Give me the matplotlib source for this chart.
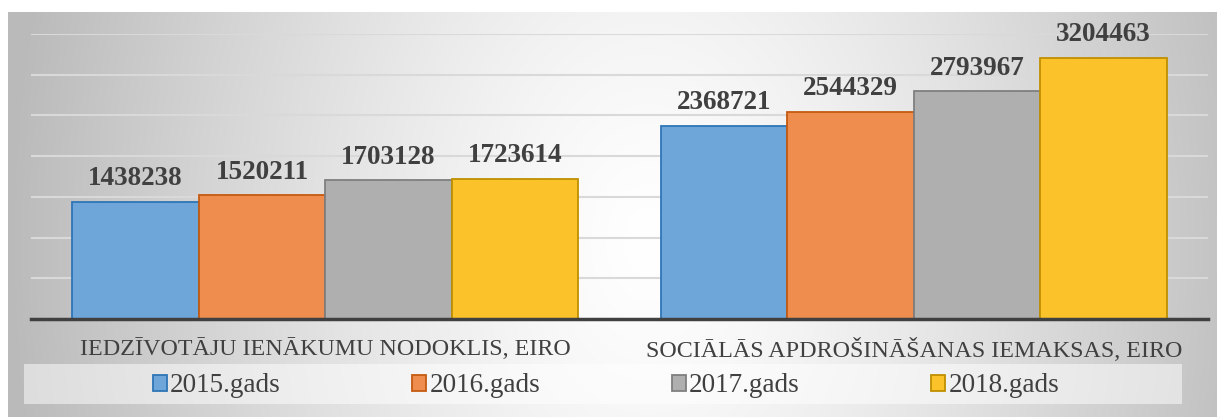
import numpy as np
import matplotlib.pyplot as plt
from matplotlib.patches import Rectangle

categories = ['IEDZĪVOTĀJU IENĀKUMU NODOKLIS, EIRO', 'SOCIĀLĀS APDROŠINĀŠANAS IEMAKSAS, EIRO']
years = ['2015.gads', '2016.gads', '2017.gads', '2018.gads']
values = {
    '2015.gads': [1438238, 2368721],
    '2016.gads': [1520211, 2544329],
    '2017.gads': [1703128, 2793967],
    '2018.gads': [1723614, 3204463],
}
face_colors = ['#6FA6D9', '#EF8D4F', '#AFAFAF', '#FCC22A']
edge_colors = ['#2E75B6', '#C55A11', '#7F7F7F', '#BF9000']

W, H = 1217, 417
fig = plt.figure(figsize=(W / 100, H / 100), dpi=100)
fig.patch.set_facecolor('white')

# gradient background of the chart area
bg = fig.add_axes([8 / W, 0, 1 - 8 / W, (H - 12) / H])
bg.set_axis_off()
yy, xx = np.mgrid[0:405, 0:1209]
d = np.sqrt(((xx - 640) / 640.0) ** 2 + ((yy - 230) / 900.0) ** 2)
d = np.clip(d, 0, 1) ** 1.3
shade = 1.0 - 0.27 * d
img = np.dstack([shade, shade, shade])
bg.imshow(img, aspect='auto', extent=(0, 1, 0, 1), origin='upper')
bg.set_xlim(0, 1)
bg.set_ylim(0, 1)

# light band behind the legend
fig.patches.append(Rectangle((24 / W, 1 - 404 / H), (1182 - 24) / W, 40 / H,
                             transform=fig.transFigure, facecolor='white',
                             alpha=0.5, edgecolor='none', zorder=1))

ax = fig.add_axes([31 / W, 1 - 319 / H, (1208 - 31) / W, (319 - 34) / H])
ax.patch.set_alpha(0)

x = np.arange(len(categories))
bar_w = 0.215
for i, yr in enumerate(years):
    pos = x + (i - 1.5) * bar_w
    bars = ax.bar(pos, values[yr], width=bar_w, color=face_colors[i],
                  edgecolor=edge_colors[i], linewidth=1.3, label=yr, zorder=3)
    for b, v in zip(bars, values[yr]):
        ax.annotate(str(v), (b.get_x() + b.get_width() / 2, v),
                    xytext=(0, 12), textcoords='offset points',
                    ha='center', va='baseline', fontsize=19.5, fontweight='bold',
                    family='Liberation Serif', color='#404040', zorder=4)

ax.set_xlim(-0.5, 1.5)
ax.set_ylim(0, 3500000)
ax.set_yticks(np.arange(500000, 3500001, 500000))
ax.yaxis.grid(True, color='#D9D9D9', linewidth=1.5, zorder=0)
ax.tick_params(axis='y', left=False, labelleft=False)
ax.set_xticks(x)
ax.set_xticklabels(categories, fontsize=17.3, family='Liberation Serif', color='#404040')
ax.tick_params(axis='x', length=0, pad=13.5)
for s in ['top', 'right', 'left']:
    ax.spines[s].set_visible(False)
ax.spines['bottom'].set_color('#404040')
ax.spines['bottom'].set_linewidth(2.5)
ax.spines['bottom'].set_zorder(5)

leg = fig.legend(loc='center', bbox_to_anchor=(606 / W, 1 - 386 / H), ncol=4,
                 frameon=False, handlelength=0.52, handleheight=0.52,
                 handletextpad=0.12, columnspacing=4.85,
                 prop={'family': 'Liberation Serif', 'size': 19.5})
for t in leg.get_texts():
    t.set_color('#404040')

fig.savefig('out.png', dpi=100)
